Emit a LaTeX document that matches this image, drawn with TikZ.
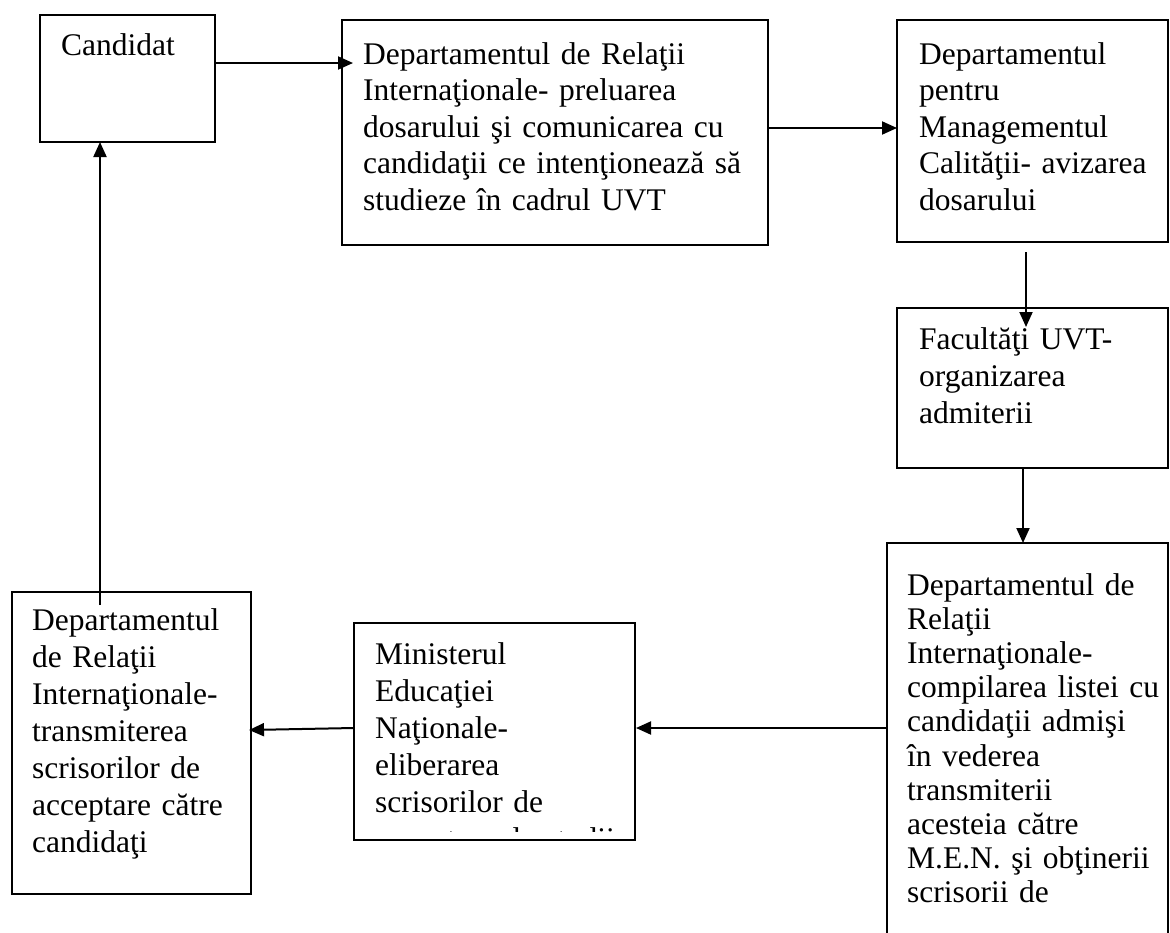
\documentclass[tikz,border=0pt]{standalone}
\usepackage{fontspec}
\setmainfont{Liberation Serif}
\usetikzlibrary{arrows.meta,calc}
\tikzset{
  box/.style={draw, line width=2pt, inner sep=0pt, outer sep=0pt, anchor=north west},
  txt/.style={anchor=base west, inner sep=0pt, text width=500pt, align=left,
              font=\fontsize{31.5}{37}\selectfont},
  conn/.style={line width=2pt, -{Triangle[length=15pt,width=13pt]}},
}
\begin{document}
\begin{tikzpicture}[x=1pt,y=-1pt]
\useasboundingbox (0,0) rectangle (1170,932);
% boxes
\node[box, minimum width=175pt, minimum height=127pt] (cand) at (40,15) {};
\node[box, minimum width=426pt, minimum height=225pt] (box2) at (342,20) {};
\node[box, minimum width=271pt, minimum height=222pt] (box3) at (897,20) {};
\node[box, minimum width=271pt, minimum height=160pt] (fac) at (897,308) {};
\node[box, minimum width=281pt, minimum height=420pt] (rb) at (887,543) {};
\node[box, minimum width=281pt, minimum height=217pt] (min) at (354,623) {};
\node[box, minimum width=239pt, minimum height=302pt] (lb) at (12,592) {};
% texts
\node[txt] (tcand) at (61,55) {Candidat};
\node[txt, font=\fontsize{31.5}{36.5}\selectfont] (t2) at (363,64) {Departamentul de Relaţii\\Internaţionale- preluarea\\dosarului şi comunicarea cu\\candidaţii ce intenţionează să\\studieze în cadrul UVT};
\node[txt, font=\fontsize{31.5}{36.5}\selectfont] (t3) at (919,64) {Departamentul\\pentru\\Managementul\\Calităţii- avizarea\\dosarului};
\node[txt] (tfac) at (919,349) {Facultăţi UVT-\\organizarea\\admiterii};
\node[txt, font=\fontsize{31.5}{34.2}\selectfont] (trb) at (907,595) {Departamentul de\\Relaţii\\Internaţionale-\\compilarea listei cu\\candidaţii admişi\\în vederea\\transmiterii\\acesteia către\\M.E.N. şi obţinerii\\scrisorii de};
\node[txt] (tlb) at (32,630) {Departamentul\\de Relaţii\\Internaţionale-\\transmiterea\\scrisorilor de\\acceptare către\\candidaţi};
\begin{scope}
\clip (354,623) rectangle (635,831);
\node[txt] (tmin) at (375,664) {Ministerul\\Educaţiei\\Naţionale-\\eliberarea\\scrisorilor de\\acceptare de studii};
\end{scope}
% connectors
\draw[conn] ($(cand.north east)+(0,48)$) -- ($(box2.north west)+(11,43)$);
\draw[conn] ($(box2.north east)+(0,108)$) -- ($(box3.north west)+(0,108)$);
\draw[conn] ($(box3.south)+(-6.5,10)$) -- ($(fac.north)+(-6.5,19)$);
\draw[conn] ($(fac.south)+(-9.5,0)$) -- ($(rb.north)+(-4.5,0)$);
\draw[conn] ($(rb.north west)+(0,185)$) -- ($(min.north east)+(1,105)$);
\draw[conn] ($(min.north west)+(0,105)$) -- ($(lb.north east)+(-2,138)$);
\draw[conn] ($(lb.north west)+(88,13)$) -- ($(cand.south west)+(60,0)$);
\end{tikzpicture}
\end{document}
